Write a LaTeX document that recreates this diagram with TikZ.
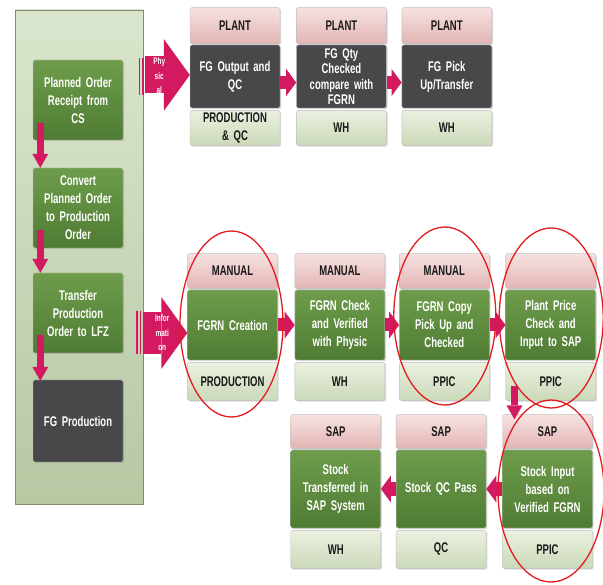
\documentclass[tikz,border=0pt]{standalone}
\usepackage{fontspec}
\setmainfont{Liberation Sans}[FakeStretch=0.68]
\usetikzlibrary{arrows.meta,positioning,calc,shadows}
\definecolor{Berry}{HTML}{D3195F}
\definecolor{RoseTop}{HTML}{F6E2E1}
\definecolor{RoseBot}{HTML}{E2B5B4}
\definecolor{Slate}{HTML}{48484B}
\definecolor{LeafTop}{HTML}{6E9C4B}
\definecolor{LeafBot}{HTML}{4F7C33}
\definecolor{MintTop}{HTML}{EAF1E0}
\definecolor{MintBot}{HTML}{CBD9B9}
\definecolor{SageTop}{HTML}{DAE6CD}
\definecolor{SageBot}{HTML}{B7C8A3}
\definecolor{Ring}{HTML}{E21B1E}
\tikzset{
  panel/.style={draw=SageBot!70!black, top color=SageTop, bottom color=SageBot, minimum width=128pt, minimum height=494pt},
  stage/.style={rounded corners=2pt, draw=black!25, minimum width=90pt, text width=86pt, align=center, inner sep=2pt, font=\fontsize{14}{18}\selectfont\bfseries, drop shadow={shadow xshift=1.2pt, shadow yshift=-1.2pt, opacity=.3}},
  hdr/.style={stage, top color=RoseTop, bottom color=RoseBot, text=black!90},
  ftr/.style={stage, top color=MintTop, bottom color=MintBot, text=black!90},
  slab/.style={stage, fill=Slate, text=white},
  leaf/.style={stage, top color=LeafTop, bottom color=LeafBot, text=white},
  push/.style={-{Triangle[length=10pt 0 0,width=27pt 0 0,line width=0pt]}, line width=13pt, draw=Berry},
  drop/.style={-{Triangle[length=14pt 0 0,width=16pt 0 0,line width=0pt]}, line width=7pt, draw=Berry},
  bigpush/.style={-{Triangle[length=26pt 0 0,width=72pt 0 0,line width=0pt]}, line width=37pt, draw=Berry},
  tag/.style={font=\fontsize{9.5}{14.5}\selectfont\bfseries, text=white, align=center, inner sep=0pt},
  ring/.style={draw=Ring, line width=1.3pt}
}

\begin{document}
\begin{tikzpicture}[x=1pt,y=-1pt]
\useasboundingbox (0,0) rectangle (603,585);
% left column
\node[panel] (panel) at (79,257) {};
\node[leaf, minimum height=80pt] (plan) at (78,100) {Planned Order\\Receipt from\\CS};
\node[leaf, minimum height=80pt] (conv) at (78,208) {Convert\\Planned Order\\to Production\\Order};
\node[leaf, minimum height=80pt] (xfer) at (78,313) {Transfer\\Production\\Order to LFZ};
\node[slab, minimum height=82pt] (make) at (78,421) {FG Production};
\draw[drop] ([xshift=7.5pt,yshift=17pt]plan.south west) -- ([xshift=7.5pt]conv.north west);
\draw[drop] ([xshift=7.5pt,yshift=18pt]conv.south west) -- ([xshift=7.5pt]xfer.north west);
\draw[drop] ([xshift=7.5pt,yshift=18pt]xfer.south west) -- ([xshift=7.5pt,yshift=-1pt]make.north west);

% physical flow
\node[slab, minimum height=63pt] (output) at (235,76.5) {FG Output and\\QC};
\node[slab, minimum height=63pt, right=16pt of output, font=\fontsize{14}{15.5}\selectfont\bfseries] (count) {FG Qty\\Checked\\compare with\\FGRN};
\node[slab, minimum height=63pt, right=15pt of count] (pickup) {FG Pick\\Up/Transfer};
\foreach \s in {output,count,pickup} {
  \node[hdr, minimum height=36pt, above=1pt of \s] (\s Hd) {PLANT};
}
\node[ftr, minimum height=35pt, below=2pt of output] (outputFt) {PRODUCTION\\\& QC};
\node[ftr, minimum height=35pt, below=2pt of count] (countFt) {WH};
\node[ftr, minimum height=35pt, below=2pt of pickup] (pickupFt) {WH};
\fill[Berry] ($(panel.east |- output.west)+(-4.7,-18.5)$) rectangle +(1.7,37);
\fill[Berry] ($(panel.east |- output.west)+(-1.3,-18.5)$) rectangle +(1.7,37);
\draw[bigpush] ($(panel.east |- output.west)+(2,-1.5)$) -- ([yshift=1.5pt]output.west);
\node[tag] (phyTag) at ($(panel.east |- output.west)+(16,-0.5)$) {Phy\\sic\\al};
\draw[push] ([yshift=-6pt]output.east) -- ([yshift=-6pt]count.west);
\draw[push] ([yshift=-6pt]count.east) -- ([yshift=-6pt]pickup.west);

% information flow
\node[leaf, minimum height=70pt] (creation) at (232.5,325) {FGRN Creation};
\node[leaf, minimum height=70pt, right=17pt of creation] (verify) {FGRN Check\\and Verified\\with Physic};
\node[leaf, minimum height=70pt, right=14pt of verify] (copy) {FGRN Copy\\Pick Up and\\Checked};
\node[leaf, minimum height=70pt, right=16pt of copy] (price) {Plant Price\\Check and\\Input to SAP};
\foreach \s in {creation,verify,copy} {
  \node[hdr, minimum height=35pt, above=1pt of \s] (\s Hd) {MANUAL};
}
\node[hdr, minimum height=35pt, above=1pt of price] (priceHd) {};
\node[ftr, minimum height=38pt, below=2pt of creation] (creationFt) {PRODUCTION};
\node[ftr, minimum height=38pt, below=2pt of verify] (verifyFt) {WH};
\node[ftr, minimum height=38pt, below=2pt of copy] (copyFt) {PPIC};
\node[ftr, minimum height=38pt, below=2pt of price] (priceFt) {PPIC};
\fill[Berry] ($(panel.east |- creation.west)+(-7,-13.5)$) rectangle +(1.7,43);
\fill[Berry] ($(panel.east |- creation.west)+(-3.6,-13.5)$) rectangle +(1.7,43);
\draw[bigpush, line width=42pt] ($(panel.east |- creation.west)+(0,8)$) -- ([yshift=-8pt]creation.west);
\node[tag] (infoTag) at ($(panel.east |- creation.west)+(19,8)$) {Infor\\mati\\on};
\draw[push] (creation) -- (verify);
\draw[push] (verify) -- (copy);
\draw[push] (copy) -- (price);

% stock in SAP
\node[leaf, minimum height=78pt] (stockin) at (547.5,489) {Stock Input\\based on\\Verified FGRN};
\node[leaf, minimum height=78pt, left=16pt of stockin] (qcpass) {Stock QC Pass};
\node[leaf, minimum height=78pt, left=15pt of qcpass] (stockmove) {Stock\\Transferred in\\SAP System};
\foreach \s in {stockin,qcpass,stockmove} {
  \node[hdr, minimum height=34pt, above=1pt of \s] (\s Hd) {SAP};
}
\node[ftr, minimum height=38pt, below=2pt of stockin] (stockinFt) {PPIC};
\node[ftr, minimum height=38pt, below=2pt of qcpass] (qcpassFt) {QC};
\node[ftr, minimum height=38pt, below=2pt of stockmove] (stockmoveFt) {WH};
\coordinate (dropTop) at ([xshift=9pt,yshift=15pt]priceFt.south west);
\draw[drop] (dropTop) -- ($(dropTop |- stockinHd.north)+(0,5)$);
\draw[push] (stockin) -- (qcpass);
\draw[push] (qcpass) -- (stockmove);

% marked steps
\draw[ring] ($(creation.center)+(-1,-1)$) ellipse [x radius=51.5pt, y radius=93pt];
\draw[ring] ($(copy.center)+(0.5,-9)$) ellipse [x radius=51pt, y radius=89pt];
\draw[ring] ($(price.center)+(0.5,-7)$) ellipse [x radius=52pt, y radius=90pt];
\draw[ring] ($(stockin.center)+(3.5,2)$) ellipse [x radius=53pt, y radius=91pt];
\end{tikzpicture}
\end{document}
